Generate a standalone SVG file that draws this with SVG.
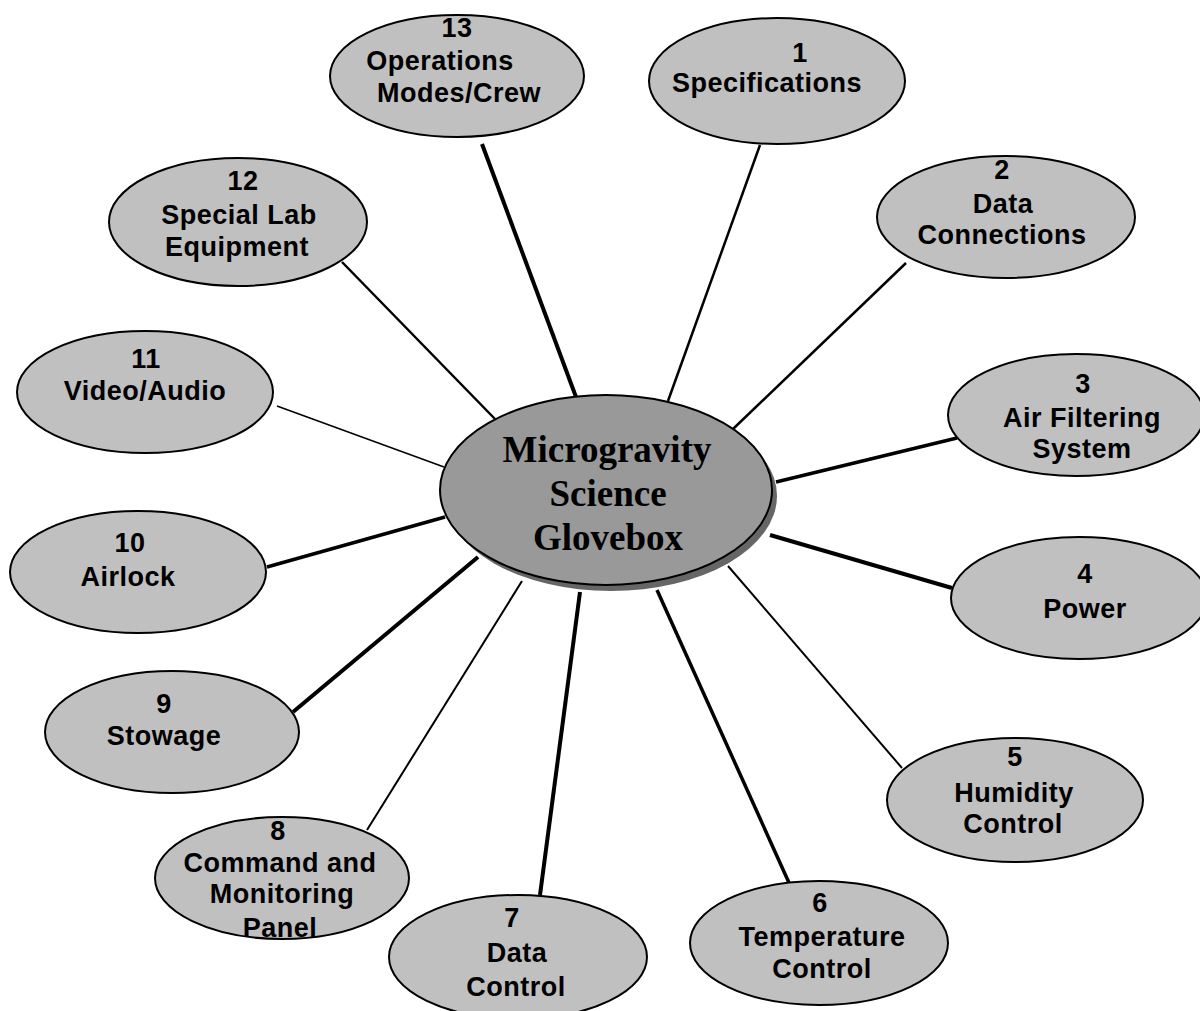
<svg xmlns="http://www.w3.org/2000/svg" width="1200" height="1011" viewBox="0 0 1200 1011">
<style>
.node ellipse{fill:#c0c0c0;stroke:#000;stroke-width:2}
.node text{font-family:"Liberation Sans",Arial,sans-serif;font-weight:bold;font-size:27px;letter-spacing:0.5px;text-anchor:middle;fill:#000}
.center text{font-family:"Liberation Serif","Times New Roman",serif;font-weight:bold;font-size:37px;text-anchor:middle;fill:#000}
#connectors line{stroke:#000;stroke-linecap:butt}
.w4{stroke-width:4}
.w35{stroke-width:3.5}
.w25{stroke-width:2.5}
.w2{stroke-width:2}
.w15{stroke-width:1.5}
</style>
<rect width="1200" height="1011" fill="#fff"/>
<g id="connectors">
<line class="w4" x1="482" y1="144" x2="576" y2="397"/>
<line class="w25" x1="760" y1="145" x2="668" y2="401"/>
<line class="w25" x1="906" y1="263" x2="733" y2="429"/>
<line class="w35" x1="957" y1="438" x2="776" y2="482"/>
<line class="w4" x1="952" y1="588" x2="770" y2="535"/>
<line class="w2" x1="902" y1="768" x2="728" y2="566"/>
<line class="w35" x1="790" y1="885" x2="657" y2="590"/>
<line class="w4" x1="540" y1="895" x2="580" y2="592"/>
<line class="w2" x1="367" y1="830" x2="522" y2="581"/>
<line class="w4" x1="293" y1="712" x2="478" y2="557"/>
<line class="w35" x1="267" y1="567" x2="445" y2="517"/>
<line class="w15" x1="277" y1="406" x2="444" y2="467"/>
<line class="w25" x1="342" y1="262" x2="495" y2="419"/>
</g>
<g id="center" class="center">
<ellipse cx="611" cy="496" rx="166" ry="95" fill="#666"/>
<ellipse cx="606" cy="490" rx="166" ry="95" fill="#999" stroke="#000" stroke-width="2"/>
<text x="607" y="462">Microgravity</text>
<text x="608" y="506">Science</text>
<text x="608" y="550">Glovebox</text>
</g>
<g id="node13" class="node">
<ellipse cx="457" cy="76" rx="127" ry="61"/>
<text x="457" y="37">13</text>
<text x="440" y="70">Operations</text>
<text x="459" y="102">Modes/Crew</text>
</g>
<g id="node1" class="node">
<ellipse cx="777" cy="81" rx="128" ry="63"/>
<text x="800" y="62">1</text>
<text x="767" y="92">Specifications</text>
</g>
<g id="node2" class="node">
<ellipse cx="1006" cy="217" rx="129" ry="61"/>
<text x="1002" y="179">2</text>
<text x="1003" y="213">Data</text>
<text x="1002" y="244">Connections</text>
</g>
<g id="node3" class="node">
<ellipse cx="1076" cy="415" rx="128" ry="61"/>
<text x="1083" y="393">3</text>
<text x="1082" y="427">Air Filtering</text>
<text x="1082" y="458">System</text>
</g>
<g id="node4" class="node">
<ellipse cx="1079" cy="598" rx="128" ry="61"/>
<text x="1085" y="583">4</text>
<text x="1085" y="618">Power</text>
</g>
<g id="node5" class="node">
<ellipse cx="1015" cy="800" rx="128" ry="62"/>
<text x="1015" y="766">5</text>
<text x="1014" y="802">Humidity</text>
<text x="1013" y="833">Control</text>
</g>
<g id="node6" class="node">
<ellipse cx="819" cy="943" rx="129" ry="62"/>
<text x="820" y="912">6</text>
<text x="822" y="946">Temperature</text>
<text x="822" y="978">Control</text>
</g>
<g id="node7" class="node">
<ellipse cx="518" cy="957" rx="129" ry="62"/>
<text x="512" y="927">7</text>
<text x="517" y="962">Data</text>
<text x="516" y="996">Control</text>
</g>
<g id="node8" class="node">
<ellipse cx="282" cy="878" rx="127" ry="61"/>
<text x="278" y="840">8</text>
<text x="280" y="872">Command and</text>
<text x="282" y="903">Monitoring</text>
<text x="280" y="937">Panel</text>
</g>
<g id="node9" class="node">
<ellipse cx="172" cy="732" rx="127" ry="61"/>
<text x="164" y="713">9</text>
<text x="164" y="745">Stowage</text>
</g>
<g id="node10" class="node">
<ellipse cx="138" cy="572" rx="128" ry="61"/>
<text x="130" y="552">10</text>
<text x="128" y="586">Airlock</text>
</g>
<g id="node11" class="node">
<ellipse cx="145" cy="392" rx="128" ry="61"/>
<text x="146" y="368">11</text>
<text x="145" y="400">Video/Audio</text>
</g>
<g id="node12" class="node">
<ellipse cx="238" cy="222" rx="129" ry="64"/>
<text x="243" y="190">12</text>
<text x="239" y="224">Special Lab</text>
<text x="237" y="256">Equipment</text>
</g>
</svg>
